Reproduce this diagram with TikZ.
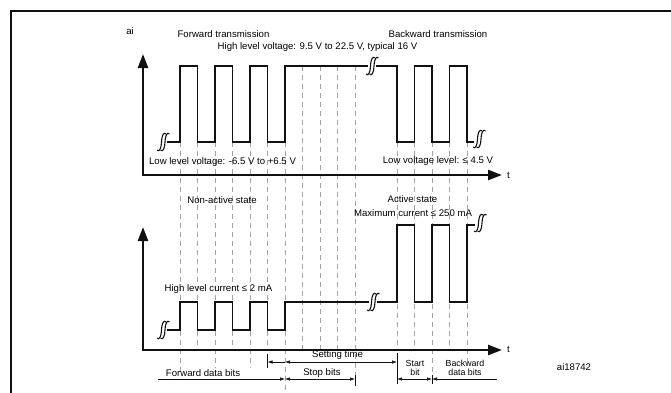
\documentclass[tikz,border=0pt]{standalone}
\usepackage{fontspec}
\setmainfont{Liberation Sans}
\usepackage{tikz}
\usetikzlibrary{
    arrows.meta, positioning, calc
}
\definecolor{gridGray}{HTML}{A3A3A3}
\definecolor{inkBlack}{HTML}{111111}

\tikzset{
    wave/.style={inkBlack, line width=1.6pt},
    axisline/.style={inkBlack, line width=2.4pt,
        {Triangle[length=14pt,width=10pt]}-{Triangle[length=14pt,width=10pt]}},
    gridline/.style={gridGray, line width=0.6pt, dash pattern=on 5pt off 4pt},
    dimline/.style={inkBlack, line width=0.6pt},
    lbl/.style={font=\fontsize{9.6}{10}\selectfont, inner sep=0pt},
    twoline/.style={font=\fontsize{8.8}{8.6}\selectfont, inner sep=0pt, align=center},
    brk/.pic={
        \draw[inkBlack, line width=1.1pt] (-6,8) .. controls (-4,10) and (-2,8) .. (-1.5,0) .. controls (-1,-8) and (1,-10) .. (3,-8);
        \draw[inkBlack, line width=1.1pt] (-2.5,8) .. controls (-0.5,10) and (1.5,8) .. (2,0) .. controls (2.5,-8) and (4.5,-10) .. (6.5,-8);
    }
}

\begin{document}
\begin{tikzpicture}[x=1pt, y=-1pt, >={Latex[length=5pt,width=3.5pt]}]
    \useasboundingbox (0,0) rectangle (671,392);
    % frame
    \draw[inkBlack, line width=1.6pt] (11,395) -- (11,11) -- (675,11);

    % bit grid
    \draw[gridline] (180,142) -- (180,372);
    \draw[gridline] (197.5,142) -- (197.5,350);
    \draw[gridline] (215,142) -- (215,368);
    \draw[gridline] (232.5,142) -- (232.5,350);
    \draw[gridline] (250,142) -- (250,368);
    \draw[gridline] (267.5,142) -- (267.5,350);
    \draw[gridline] (285,142) -- (285,392);
    \draw[gridline] (302.5,66) -- (302.5,350);
    \draw[gridline] (320,66) -- (320,350);
    \draw[gridline] (337.5,66) -- (337.5,350);
    \draw[gridline] (355,66) -- (355,376);
    \draw[gridline] (397,142) -- (397,350);
    \draw[gridline] (414.5,142) -- (414.5,350);
    \draw[gridline] (432,142) -- (432,376);
    \draw[gridline] (449.5,142) -- (449.5,350);
    \draw[gridline] (467,142) -- (467,366);

    % voltage
    \draw[axisline] (143,54) -- (143,175) -- (502,175);
    \draw[wave] (167,142) -- (180,142) -- (180,66) -- (197.5,66) -- (197.5,142) -- (215,142)
        -- (215,66) -- (232.5,66) -- (232.5,142) -- (250,142) -- (250,66) -- (267.5,66)
        -- (267.5,142) -- (285,142) -- (285,66) -- (368,66);
    \draw[wave] (376,66) -- (397,66) -- (397,142) -- (414.5,142) -- (414.5,66) -- (432,66)
        -- (432,142) -- (449.5,142) -- (449.5,66) -- (467,66) -- (467,142) -- (474,142);
    \pic at (163,142) {brk};
    \pic at (372,66) {brk};
    \pic at (479,139) {brk};

    % current
    \draw[axisline] (143,227) -- (143,350) -- (502,350);
    \draw[wave] (167,330) -- (180,330) -- (180,302) -- (197.5,302) -- (197.5,330) -- (215,330)
        -- (215,302) -- (232.5,302) -- (232.5,330) -- (250,330) -- (250,302) -- (267.5,302)
        -- (267.5,330) -- (285,330) -- (285,302) -- (369,302);
    \draw[wave] (377,302) -- (397,302) -- (397,225) -- (414.5,225) -- (414.5,302) -- (432,302)
        -- (432,225) -- (449.5,225) -- (449.5,302) -- (467,302) -- (467,225) -- (475,225);
    \pic at (163,330) {brk};
    \pic at (373,302) {brk};
    \pic at (480,223) {brk};

    % labels
    \node[lbl] (ai) at (130,31) {ai};
    \node[lbl] (fwdtx) at (223.5,34) {Forward transmission};
    \node[lbl] (bwdtx) at (438,34) {Backward transmission};
    \node[lbl] (highv) at (317.5,47) {High level voltage: 9.5 V to 22.5 V, typical 16 V};
    \node[lbl] (lowv) at (222.5,162) {Low level voltage: -6.5 V to +6.5 V};
    \node[lbl] (lowvb) at (438,161) {Low voltage level: ≤ 4.5 V};
    \node[lbl, anchor=west] (t1) at (507,175) {t};
    \node[lbl] (nonact) at (222,200) {Non-active state};
    \node[lbl] (act) at (412.5,199) {Active state};
    \node[lbl] (maxi) at (413,213) {Maximum current ≤ 250 mA};
    \node[lbl] (highi) at (218.5,289) {High level current ≤ 2 mA};
    \node[lbl, anchor=west] (t2) at (507,349) {t};
    \node[lbl] (figid) at (574,367) {ai18742};

    % timing
    \draw[dimline] (267.5,354) -- (267.5,368);
    \draw[dimline] (355,375) -- (355,386);
    \draw[dimline] (397,353) -- (397,384);
    \draw[dimline] (432,375) -- (432,384);
    \draw[dimline, ->] (285,362) -- (267.5,362);
    \draw[dimline, <->] (285,362) -- (397,362);
    \draw[dimline, ->] (158,379) -- (285,379);
    \draw[dimline, <->] (285,379) -- (355,379);
    \draw[dimline, <->] (397,379) -- (432,379);
    \draw[dimline, <-] (432,379) -- (497,379);
    \node[lbl] (settime) at (337.5,355) {Setting time};
    \node[lbl] (fwdbits) at (203,373) {Forward data bits};
    \node[lbl] (stopbits) at (322,373) {Stop bits};
    \node[twoline] (startbit) at (415,368) {Start\\bit};
    \node[twoline] (bwdbits) at (465,368) {Backward\\data bits};
\end{tikzpicture}
\end{document}
